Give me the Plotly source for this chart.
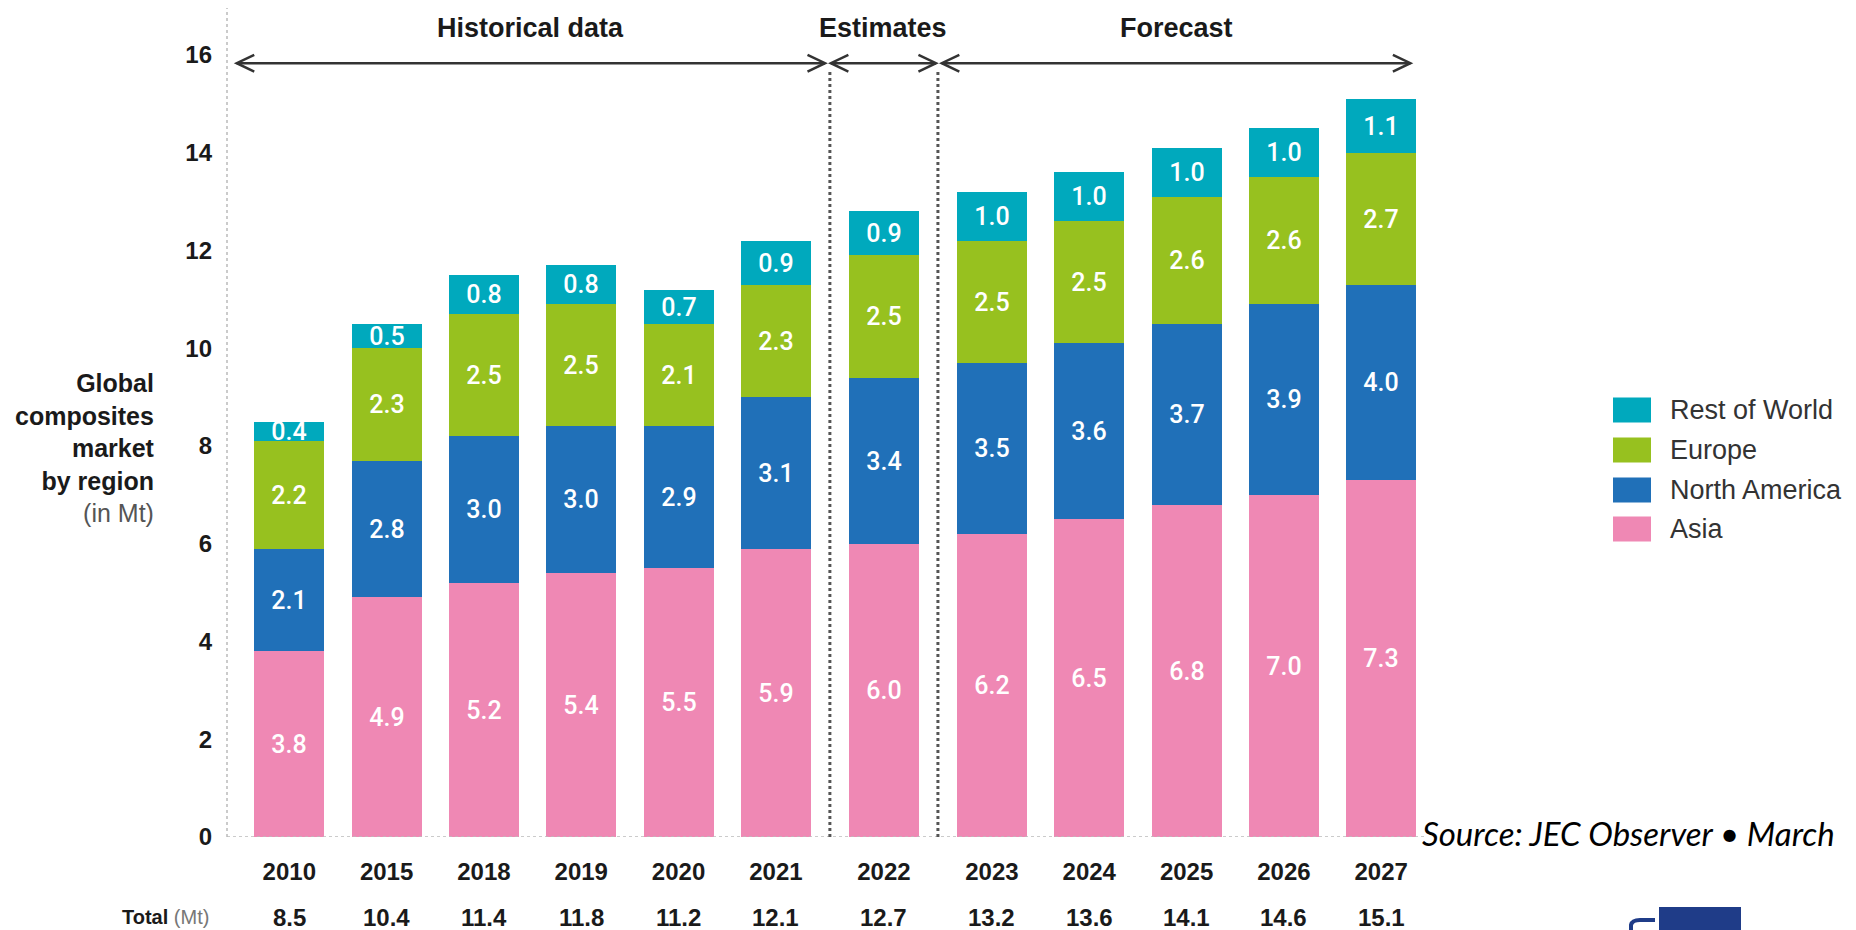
import plotly.graph_objects as go

# ---------------- data ----------------
years = ["2010", "2015", "2018", "2019", "2020", "2021", "2022",
         "2023", "2024", "2025", "2026", "2027"]
asia = [3.8, 4.9, 5.2, 5.4, 5.5, 5.9, 6.0, 6.2, 6.5, 6.8, 7.0, 7.3]
north_america = [2.1, 2.8, 3.0, 3.0, 2.9, 3.1, 3.4, 3.5, 3.6, 3.7, 3.9, 4.0]
europe = [2.2, 2.3, 2.5, 2.5, 2.1, 2.3, 2.5, 2.5, 2.5, 2.6, 2.6, 2.7]
rest_of_world = [0.4, 0.5, 0.8, 0.8, 0.7, 0.9, 0.9, 1.0, 1.0, 1.0, 1.0, 1.1]
totals = [8.5, 10.4, 11.4, 11.8, 11.2, 12.1, 12.7, 13.2, 13.6, 14.1, 14.6, 15.1]
y_ticks = [0, 2, 4, 6, 8, 10, 12, 14, 16]
phase_names = ["Historical data", "Estimates", "Forecast"]
legend_names = ["Rest of World", "Europe", "North America", "Asia"]

# ---------------- styling / layout ----------------
C_ASIA = "#EF88B4"
C_NA = "#2070B8"
C_EU = "#97C11F"
C_ROW = "#00A9BD"
COND = "Liberation Sans Narrow, Arial Narrow, Liberation Sans, Arial, sans-serif"
REG = "Liberation Sans, Arial, sans-serif"
OFF = 8                      # page body margin of the html page
W, H = 1856 - OFF, 930 - OFF
ML, MR, MT, MB = 227 - OFF, 431, 0, 93
PW, PH = W - ML - MR, H - MT - MB
PX_PER_UNIT = 48.88
YMAX = PH / PX_PER_UNIT
GAP = 0.11
xpos = [i + GAP * (i >= 6) + GAP * (i >= 7) for i in range(len(years))]
XMIN, XMAX = xpos[0] - 0.64, xpos[-1] + 0.45


def px(xp):
    """reference-pixel x -> paper"""
    return (xp - OFF - ML) / PW


def py(yp):
    """reference-pixel y -> paper"""
    return (H - MB - (yp - OFF)) / PH


fig = go.Figure()
for name, vals, col in [("Asia", asia, C_ASIA), ("North America", north_america, C_NA),
                        ("Europe", europe, C_EU), ("Rest of World", rest_of_world, C_ROW)]:
    fig.add_trace(go.Bar(
        x=xpos, y=vals, name=name, width=0.72,
        marker=dict(color=col, line=dict(width=0)),
        text=[f"{v:.1f}" for v in vals], textposition="inside",
        insidetextanchor="middle", textangle=0,
        textfont=dict(color="white", size=25, family="Roboto, Liberation Sans, sans-serif", weight=500),
        showlegend=False, hoverinfo="x+y+name",
    ))

shapes = []
# dotted axes
shapes.append(dict(type="line", xref="paper", yref="paper", x0=0, x1=0, y0=0, y1=1,
                   line=dict(color="#bbbbbb", width=1.5, dash="dot")))
shapes.append(dict(type="line", xref="paper", yref="y", x0=0, x1=1, y0=0, y1=0,
                   line=dict(color="#bbbbbb", width=1.5, dash="dot")))

sep1 = (xpos[5] + xpos[6]) / 2
sep2 = (xpos[6] + xpos[7]) / 2
ARROW_Y = 15.83
for s in (sep1, sep2):
    shapes.append(dict(type="line", xref="x", yref="y", x0=s, x1=s, y0=0, y1=ARROW_Y - 0.12,
                       line=dict(color="#555555", width=3, dash="dot")))

spans = [(xpos[0] - 0.54, sep1 - 0.05), (sep1 + 0.01, sep2 - 0.02), (sep2 + 0.04, xpos[-1] + 0.3)]
DX, DY = 0.18, 0.17
for a, b in spans:
    shapes.append(dict(type="line", xref="x", yref="y", x0=a, x1=b, y0=ARROW_Y, y1=ARROW_Y,
                       line=dict(color="#333333", width=2.5)))
    shapes.append(dict(type="path", xref="x", yref="y",
                       path=f"M {a+DX},{ARROW_Y+DY} L {a},{ARROW_Y} L {a+DX},{ARROW_Y-DY}",
                       line=dict(color="#333333", width=2.5)))
    shapes.append(dict(type="path", xref="x", yref="y",
                       path=f"M {b-DX},{ARROW_Y+DY} L {b},{ARROW_Y} L {b-DX},{ARROW_Y-DY}",
                       line=dict(color="#333333", width=2.5)))

annotations = []
for name, (a, b) in zip(phase_names, spans):
    annotations.append(dict(x=(a + b) / 2, y=16.55, xref="x", yref="y", text=f"<b>{name}</b>",
                            showarrow=False, font=dict(family=COND, size=27, color="#1a1a1a")))

# totals row
for xv, t in zip(xpos, totals):
    annotations.append(dict(x=xv, y=0, xref="x", yref="y", yshift=-80, text=f"<b>{t:.1f}</b>",
                            showarrow=False, font=dict(family=COND, size=24, color="#1a1a1a")))
annotations.append(dict(x=0, y=0, xref="paper", yref="y", xshift=-16, yshift=-80, xanchor="right",
                        text="<b>Total</b> <span style='color:#777777'>(Mt)</span>",
                        showarrow=False, font=dict(family=COND, size=20, color="#1a1a1a")))

# y-axis title
annotations.append(dict(x=0, y=py(448), xref="paper", yref="paper", xshift=-70, xanchor="right",
                        yanchor="middle", align="right", showarrow=False,
                        text="<b>Global<br>composites<br>market<br>by region</b><br>"
                             "<span style='color:#555555'>(in Mt)</span>",
                        font=dict(family=COND, size=25, color="#1a1a1a")))

# custom legend
leg_cols = [C_ROW, C_EU, C_NA, C_ASIA]
leg_y = [410, 450, 490, 529]
for name, col, yc in zip(legend_names, leg_cols, leg_y):
    shapes.append(dict(type="rect", xref="paper", yref="paper",
                       x0=px(1613), x1=px(1651), y0=py(yc - 12.5), y1=py(yc + 12.5),
                       fillcolor=col, line=dict(width=0)))
    annotations.append(dict(x=px(1668), y=py(yc), xref="paper", yref="paper", xanchor="left",
                            yanchor="middle", text=name, showarrow=False,
                            font=dict(family=REG, size=27, color="#333333")))

# source text (the reference shows it running to the right edge)
annotations.append(dict(x=px(1420), y=py(833), xref="paper", yref="paper", xanchor="left",
                        yanchor="middle", text="<i>Source: JEC Observer • March</i>",
                        showarrow=False, font=dict(family="Lato, Open Sans, sans-serif", size=33,
                                                   color="#000000")))

# logo fragment
shapes.append(dict(type="rect", xref="paper", yref="paper", x0=px(1659), x1=px(1741),
                   y0=py(934), y1=py(907), fillcolor="#1F3C88", line=dict(width=0)))
shapes.append(dict(type="path", xref="paper", yref="paper",
                   path=f"M {px(1631)},{py(934)} L {px(1631)},{py(925)} Q {px(1632)},{py(920)} "
                        f"{px(1640)},{py(920)} L {px(1655)},{py(920)}",
                   line=dict(color="#1F3C88", width=4)))

fig.update_layout(
    width=W, height=H, barmode="stack", bargap=0,
    margin=dict(l=ML, r=MR, t=MT, b=MB, autoexpand=False),
    paper_bgcolor="white", plot_bgcolor="white",
    uniformtext=dict(minsize=25, mode="show"),
    xaxis=dict(range=[XMIN, XMAX], tickmode="array", tickvals=xpos, ticktext=[f"<b>{y}</b>" for y in years],
               showgrid=False, zeroline=False, showline=False, ticks="",
               tickfont=dict(family=COND, size=24, color="#1a1a1a"), ticklabelstandoff=18),
    yaxis=dict(range=[0, YMAX], tickmode="array", tickvals=y_ticks, ticktext=[f"<b>{v}</b>" for v in y_ticks],
               showgrid=False, zeroline=False, showline=False, ticks="",
               tickfont=dict(family=COND, size=24, color="#1a1a1a"), ticklabelstandoff=14),
    shapes=shapes, annotations=annotations,
)

fig.write_html("out.html")
